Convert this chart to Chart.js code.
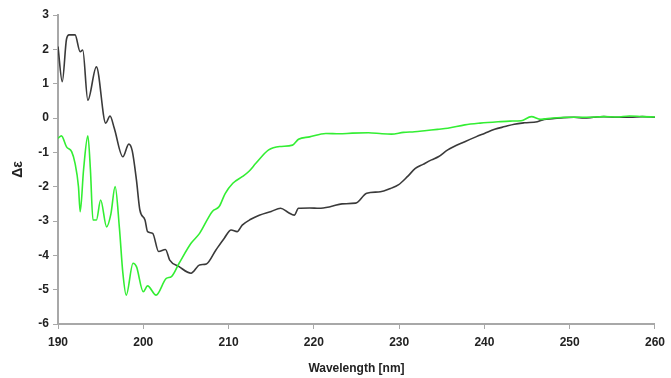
<!DOCTYPE html>
<html>
<head>
<meta charset="utf-8">
<script src="https://cdn.jsdelivr.net/npm/chart.js@4.4.1/dist/chart.umd.min.js"></script>
<style>
  html, body { margin: 0; padding: 0; background: #fff; }
  #wrap { width: 671px; height: 378px; position: relative; }
</style>
</head>
<body>
<div id="wrap"><canvas id="c" width="671" height="378"></canvas></div>
<script>
// Black trace: wavelength [nm] and Δε
const blackWavelength = [190.0,190.5,191.0,191.3,192.0,192.6,192.9,193.5,194.5,195.6,196.1,196.6,197.6,198.3,198.7,199.2,199.6,200.2,200.5,201.1,201.8,202.6,203.1,204.2,205.6,206.6,207.4,208.5,209.5,210.3,211.0,211.6,212.6,213.6,215.0,216.1,217.0,217.7,218.2,219.5,220.6,222.0,223.3,224.9,226.2,227.8,229.0,229.9,231.0,231.9,232.8,233.8,234.6,235.7,237.7,239.0,240.0,241.2,242.4,243.5,244.7,246.2,247.0,248.0,249.3,250.5,251.7,252.8,254.0,255.5,257.1,258.5,260.0];
const blackDelta = [2.08,1.06,2.30,2.42,2.42,1.93,1.98,0.52,1.49,-0.15,0.06,-0.30,-1.13,-0.76,-0.95,-1.81,-2.68,-2.97,-3.31,-3.36,-3.89,-3.83,-4.14,-4.33,-4.52,-4.28,-4.25,-3.85,-3.50,-3.26,-3.31,-3.12,-2.95,-2.83,-2.72,-2.63,-2.75,-2.83,-2.63,-2.62,-2.63,-2.58,-2.50,-2.48,-2.19,-2.15,-2.05,-1.95,-1.70,-1.47,-1.35,-1.22,-1.13,-0.93,-0.69,-0.55,-0.45,-0.33,-0.25,-0.18,-0.14,-0.11,-0.04,-0.02,0.01,0.02,0.00,0.02,0.04,0.02,0.02,0.04,0.02];

// Green trace: wavelength [nm] and Δε
const greenWavelength = [190.0,190.4,191.0,191.6,192.0,192.4,192.6,193.0,193.5,193.8,194.1,194.5,195.0,195.7,196.2,196.7,197.2,197.6,198.0,198.8,199.2,200.0,200.5,201.5,202.7,203.3,204.2,205.6,206.6,208.1,208.9,209.6,210.5,211.6,212.4,213.2,214.7,216.0,217.5,218.2,219.5,221.4,223.0,224.5,226.4,228.0,229.1,230.5,231.8,233.0,234.5,235.7,237.7,239.5,241.6,243.0,244.3,245.5,246.6,248.0,250.0,252.0,254.0,255.5,257.0,258.5,260.0];
const greenDelta = [-0.59,-0.52,-0.84,-0.98,-1.32,-2.00,-2.73,-1.50,-0.52,-1.50,-2.97,-2.97,-2.39,-3.17,-2.80,-2.00,-3.20,-4.50,-5.16,-4.23,-4.33,-5.06,-4.89,-5.16,-4.67,-4.62,-4.23,-3.65,-3.36,-2.72,-2.58,-2.20,-1.90,-1.71,-1.55,-1.32,-0.93,-0.83,-0.79,-0.62,-0.55,-0.45,-0.46,-0.44,-0.43,-0.46,-0.47,-0.42,-0.40,-0.37,-0.33,-0.30,-0.20,-0.15,-0.11,-0.09,-0.08,0.04,-0.04,0.00,0.02,0.02,0.04,0.03,0.06,0.04,0.03];

// Axis ticks
const xTicks = [190,200,210,220,230,240,250,260];
const yTicks = [-6,-5,-4,-3,-2,-1,0,1,2,3];

const toPoints = (xs, ys) => xs.map((x, i) => ({x: x, y: ys[i]}));

const FONT = "'Liberation Sans', Arial, sans-serif";
const AXIS = '#a8a8a8';

new Chart(document.getElementById('c'), {
  type: 'line',
  data: {
    datasets: [
      {
        label: 'green',
        data: toPoints(greenWavelength, greenDelta),
        borderColor: '#33ee33',
        borderWidth: 1.6,
        pointRadius: 0,
        cubicInterpolationMode: 'monotone',
        fill: false
      },
      {
        label: 'black',
        data: toPoints(blackWavelength, blackDelta),
        borderColor: '#3a3a3a',
        borderWidth: 1.6,
        pointRadius: 0,
        cubicInterpolationMode: 'monotone',
        fill: false
      }
    ]
  },
  options: {
    responsive: false,
    animation: false,
    events: [],
    layout: { padding: { left: 0, top: 15, right: 10, bottom: 2 } },
    plugins: { legend: { display: false }, tooltip: { enabled: false } },
    scales: {
      x: {
        type: 'linear',
        min: 190, max: 260,
        afterBuildTicks: s => { s.ticks = xTicks.map(v => ({value: v})); },
        afterFit: s => { s.height = 52; },
        grid: { drawOnChartArea: false, color: AXIS, tickLength: 5, tickColor: AXIS },
        border: { color: AXIS, width: 2 },
        ticks: { color: '#222', font: { family: FONT, size: 12, weight: 'bold' }, padding: 6, maxRotation: 0 },
        title: { display: true, text: 'Wavelength [nm]', color: '#222', font: { family: FONT, size: 12, weight: 'bold' }, padding: { top: 4, bottom: 0 } }
      },
      y: {
        type: 'linear',
        min: -6, max: 3,
        afterBuildTicks: s => { s.ticks = yTicks.map(v => ({value: v})); },
        afterFit: s => { s.width = 58; },
        grid: { drawOnChartArea: false, color: AXIS, tickLength: 5, tickColor: AXIS },
        border: { color: AXIS, width: 2 },
        ticks: { color: '#222', font: { family: FONT, size: 12, weight: 'bold' }, padding: 4 },
        title: { display: true, text: 'Δε', color: '#222', font: { family: FONT, size: 14, weight: 'bold' }, padding: { top: 10, bottom: 0 } }
      }
    }
  }
});
</script>
</body>
</html>
